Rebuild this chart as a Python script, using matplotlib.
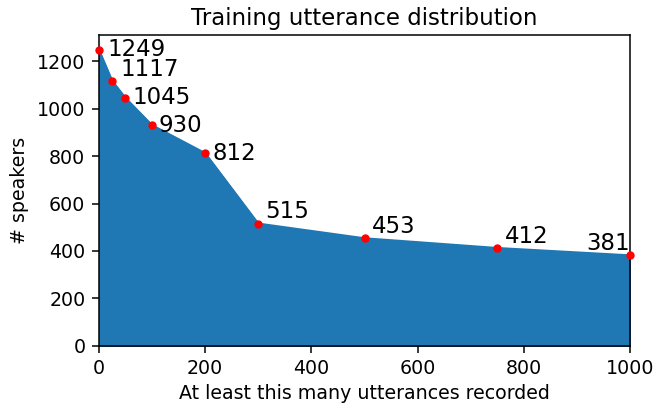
import numpy as np
import matplotlib.pyplot as plt

# utterances threshold vs number of speakers
min_utts = [0, 25, 50, 100, 200, 300, 500, 750, 1000]
speakers = [1249, 1117, 1045, 930, 812, 515, 453, 412, 381]

# label offsets in pixels (dx, dy) and alignment
offsets = [(9, 0), (8, 11), (7, 0), (7, 0), (7, 0), (7, 12), (7, 12), (7, 12), (0, 12)]
aligns = ['left'] * 8 + ['right']

sc = 1.37  # everything looks scaled up a bit
fig = plt.figure(figsize=(6.67, 4.05), dpi=100)
ax = fig.add_axes([0.148, 0.146, 0.797, 0.768])

ax.fill_between(min_utts, speakers, color='#1f77b4')
ax.plot(min_utts, speakers, color='#1f77b4', lw=1.2 * sc)
ax.scatter(min_utts, speakers, color='red', s=25, zorder=3, clip_on=False)

for x, y, (dx, dy), ha in zip(min_utts, speakers, offsets, aligns):
    ax.annotate(str(y), (x, y), xytext=(dx, dy), textcoords='offset pixels',
                fontsize=12 * sc, ha=ha, va='center')

ax.set_xlim(0, 1000)
ax.set_ylim(0, 1311)
ax.tick_params(labelsize=10 * sc, length=3.5 * sc, width=0.8 * sc, pad=3.5 * sc)
for s in ax.spines.values():
    s.set_linewidth(0.8 * sc)
ax.set_xlabel('At least this many utterances recorded', fontsize=10 * sc, labelpad=3 * sc)
ax.set_ylabel('# speakers', fontsize=10 * sc, labelpad=4 * sc)
ax.set_title('Training utterance distribution', fontsize=12 * sc, pad=5 * sc)

plt.savefig('out.png', dpi=100)
